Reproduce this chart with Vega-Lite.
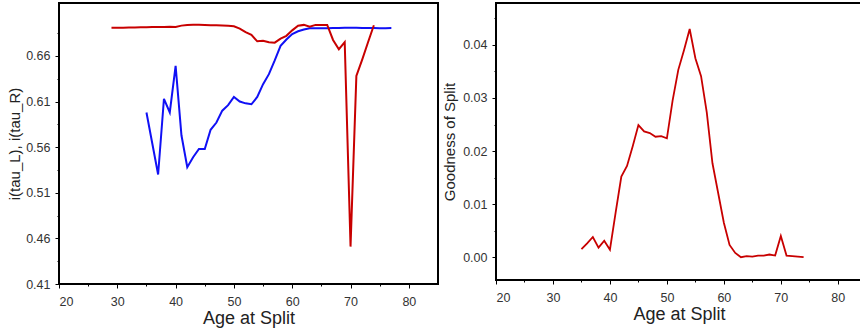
{
  "$schema": "https://vega.github.io/schema/vega-lite/v6.json",
  "padding": {"left": 6, "top": 2, "right": 0, "bottom": 0},
  "spacing": 2,
  "background": "white",
  "config": {
    "view": {"stroke": "black", "strokeWidth": 2},
    "axis": {
      "domain": false,
      "grid": false,
      "tickColor": "black",
      "tickWidth": 1,
      "labelFont": "Liberation Sans",
      "labelFontSize": 12.5,
      "labelColor": "#333333",
      "titleFont": "Liberation Sans",
      "titleFontWeight": "normal",
      "titleColor": "#222222"
    }
  },
  "datasets": {
    "imp": [
      {"age": 35, "side": "L", "value": 0.598},
      {"age": 36, "side": "L", "value": 0.564},
      {"age": 37, "side": "L", "value": 0.530},
      {"age": 38, "side": "L", "value": 0.613},
      {"age": 39, "side": "L", "value": 0.598},
      {"age": 40, "side": "L", "value": 0.649},
      {"age": 41, "side": "L", "value": 0.573},
      {"age": 42, "side": "L", "value": 0.538},
      {"age": 43, "side": "L", "value": 0.549},
      {"age": 44, "side": "L", "value": 0.558},
      {"age": 45, "side": "L", "value": 0.558},
      {"age": 46, "side": "L", "value": 0.579},
      {"age": 47, "side": "L", "value": 0.587},
      {"age": 48, "side": "L", "value": 0.600},
      {"age": 49, "side": "L", "value": 0.606},
      {"age": 50, "side": "L", "value": 0.615},
      {"age": 51, "side": "L", "value": 0.610},
      {"age": 52, "side": "L", "value": 0.608},
      {"age": 53, "side": "L", "value": 0.607},
      {"age": 54, "side": "L", "value": 0.615},
      {"age": 55, "side": "L", "value": 0.629},
      {"age": 56, "side": "L", "value": 0.640},
      {"age": 57, "side": "L", "value": 0.655},
      {"age": 58, "side": "L", "value": 0.671},
      {"age": 59, "side": "L", "value": 0.678},
      {"age": 60, "side": "L", "value": 0.684},
      {"age": 61, "side": "L", "value": 0.687},
      {"age": 62, "side": "L", "value": 0.689},
      {"age": 63, "side": "L", "value": 0.6902},
      {"age": 64, "side": "L", "value": 0.6902},
      {"age": 65, "side": "L", "value": 0.6903},
      {"age": 66, "side": "L", "value": 0.6904},
      {"age": 67, "side": "L", "value": 0.6906},
      {"age": 68, "side": "L", "value": 0.6907},
      {"age": 69, "side": "L", "value": 0.6908},
      {"age": 70, "side": "L", "value": 0.691},
      {"age": 71, "side": "L", "value": 0.6908},
      {"age": 72, "side": "L", "value": 0.6906},
      {"age": 73, "side": "L", "value": 0.6905},
      {"age": 74, "side": "L", "value": 0.6905},
      {"age": 75, "side": "L", "value": 0.6904},
      {"age": 76, "side": "L", "value": 0.6904},
      {"age": 77, "side": "L", "value": 0.6905},
      {"age": 29, "side": "R", "value": 0.691},
      {"age": 30, "side": "R", "value": 0.691},
      {"age": 31, "side": "R", "value": 0.691},
      {"age": 32, "side": "R", "value": 0.6911},
      {"age": 33, "side": "R", "value": 0.6912},
      {"age": 34, "side": "R", "value": 0.6913},
      {"age": 35, "side": "R", "value": 0.6914},
      {"age": 36, "side": "R", "value": 0.6916},
      {"age": 37, "side": "R", "value": 0.6917},
      {"age": 38, "side": "R", "value": 0.6918},
      {"age": 39, "side": "R", "value": 0.692},
      {"age": 40, "side": "R", "value": 0.6918},
      {"age": 41, "side": "R", "value": 0.6932},
      {"age": 42, "side": "R", "value": 0.694},
      {"age": 43, "side": "R", "value": 0.6942},
      {"age": 44, "side": "R", "value": 0.6942},
      {"age": 45, "side": "R", "value": 0.6938},
      {"age": 46, "side": "R", "value": 0.6935},
      {"age": 47, "side": "R", "value": 0.6935},
      {"age": 48, "side": "R", "value": 0.6933},
      {"age": 49, "side": "R", "value": 0.693},
      {"age": 50, "side": "R", "value": 0.6925},
      {"age": 51, "side": "R", "value": 0.690},
      {"age": 52, "side": "R", "value": 0.686},
      {"age": 53, "side": "R", "value": 0.683},
      {"age": 54, "side": "R", "value": 0.676},
      {"age": 55, "side": "R", "value": 0.6765},
      {"age": 56, "side": "R", "value": 0.675},
      {"age": 57, "side": "R", "value": 0.6745},
      {"age": 58, "side": "R", "value": 0.679},
      {"age": 59, "side": "R", "value": 0.682},
      {"age": 60, "side": "R", "value": 0.688},
      {"age": 61, "side": "R", "value": 0.693},
      {"age": 62, "side": "R", "value": 0.694},
      {"age": 63, "side": "R", "value": 0.692},
      {"age": 64, "side": "R", "value": 0.694},
      {"age": 65, "side": "R", "value": 0.694},
      {"age": 66, "side": "R", "value": 0.694},
      {"age": 67, "side": "R", "value": 0.6775},
      {"age": 68, "side": "R", "value": 0.6673},
      {"age": 69, "side": "R", "value": 0.675},
      {"age": 70, "side": "R", "value": 0.451},
      {"age": 71, "side": "R", "value": 0.638},
      {"age": 72, "side": "R", "value": 0.656},
      {"age": 73, "side": "R", "value": 0.675},
      {"age": 74, "side": "R", "value": 0.6936}
    ],
    "gos": [
      {"age": 35, "value": 0.0015},
      {"age": 36, "value": 0.0026},
      {"age": 37, "value": 0.0038},
      {"age": 38, "value": 0.0018},
      {"age": 39, "value": 0.0031},
      {"age": 40, "value": 0.0014},
      {"age": 41, "value": 0.0084},
      {"age": 42, "value": 0.0152},
      {"age": 43, "value": 0.0172},
      {"age": 44, "value": 0.0209},
      {"age": 45, "value": 0.0249},
      {"age": 46, "value": 0.0237},
      {"age": 47, "value": 0.0234},
      {"age": 48, "value": 0.0227},
      {"age": 49, "value": 0.0228},
      {"age": 50, "value": 0.0224},
      {"age": 51, "value": 0.0295},
      {"age": 52, "value": 0.0353},
      {"age": 53, "value": 0.0390},
      {"age": 54, "value": 0.0430},
      {"age": 55, "value": 0.0375},
      {"age": 56, "value": 0.0341},
      {"age": 57, "value": 0.0273},
      {"age": 58, "value": 0.0177},
      {"age": 59, "value": 0.0121},
      {"age": 60, "value": 0.0065},
      {"age": 61, "value": 0.0023},
      {"age": 62, "value": 0.0008},
      {"age": 63, "value": 0.0000},
      {"age": 64, "value": 0.0002},
      {"age": 65, "value": 0.0001},
      {"age": 66, "value": 0.0003},
      {"age": 67, "value": 0.0003},
      {"age": 68, "value": 0.0005},
      {"age": 69, "value": 0.0003},
      {"age": 70, "value": 0.0040},
      {"age": 71, "value": 0.0003},
      {"age": 72, "value": 0.0002},
      {"age": 73, "value": 0.0001},
      {"age": 74, "value": 0.0000}
    ]
  },
  "hconcat": [
    {
      "width": 379,
      "height": 281,
      "data": {"name": "imp"},
      "encoding": {
        "x": {
          "field": "age",
          "type": "quantitative",
          "scale": {"domain": [20, 85], "nice": false, "zero": false},
          "axis": {
            "title": "Age at Split",
            "titleFontSize": 18,
            "titlePadding": 2,
            "values": [20, 25, 30, 35, 40, 45, 50, 55, 60, 65, 70, 75, 80],
            "labelExpr": "datum.value % 10 === 0 ? datum.label : ''",
            "tickSize": {"condition": {"test": "datum.value % 10 !== 0", "value": 2}, "value": 4},
            "labelPadding": 7
          }
        },
        "y": {
          "field": "value",
          "type": "quantitative",
          "scale": {"domain": [0.41, 0.718], "nice": false, "zero": false},
          "axis": {
            "title": "i(tau_L), i(tau_R)",
            "titleFontSize": 15,
            "titlePadding": 3,
            "format": ".2f",
            "values": [0.41, 0.435, 0.46, 0.485, 0.51, 0.535, 0.56, 0.585, 0.61, 0.635, 0.66, 0.685],
            "labelExpr": "round(datum.value * 1000) % 50 === 10 ? datum.label : ''",
            "tickSize": {"condition": {"test": "round(datum.value * 1000) % 50 !== 10", "value": 2}, "value": 4},
            "labelPadding": 5
          }
        }
      },
      "layer": [
        {
          "transform": [{"filter": "datum.side === 'L'"}],
          "mark": {"type": "line", "color": "#1010f5", "strokeWidth": 2}
        },
        {
          "transform": [{"filter": "datum.side === 'R'"}],
          "mark": {"type": "line", "color": "#c80000", "strokeWidth": 2}
        }
      ]
    },
    {
      "width": 366,
      "height": 277,
      "data": {"name": "gos"},
      "mark": {"type": "line", "color": "#c80000", "strokeWidth": 1.8},
      "encoding": {
        "x": {
          "field": "age",
          "type": "quantitative",
          "scale": {"domain": [20, 84.25], "nice": false, "zero": false},
          "axis": {
            "title": "Age at Split",
            "titleFontSize": 18,
            "titlePadding": 2,
            "values": [20, 25, 30, 35, 40, 45, 50, 55, 60, 65, 70, 75, 80],
            "labelExpr": "datum.value % 10 === 0 ? datum.label : ''",
            "tickSize": {"condition": {"test": "datum.value % 10 !== 0", "value": 2}, "value": 4},
            "labelPadding": 7
          }
        },
        "y": {
          "field": "value",
          "type": "quantitative",
          "scale": {"domain": [-0.0043, 0.0479], "nice": false, "zero": false},
          "axis": {
            "title": "Goodness of Split",
            "titleFontSize": 15,
            "titlePadding": 5,
            "format": ".2f",
            "values": [0, 0.005, 0.01, 0.015, 0.02, 0.025, 0.03, 0.035, 0.04, 0.045],
            "labelExpr": "round(datum.value * 1000) % 10 === 0 ? datum.label : ''",
            "tickSize": {"condition": {"test": "round(datum.value * 1000) % 10 !== 0", "value": 2}, "value": 4},
            "labelPadding": 5
          }
        }
      }
    }
  ]
}
